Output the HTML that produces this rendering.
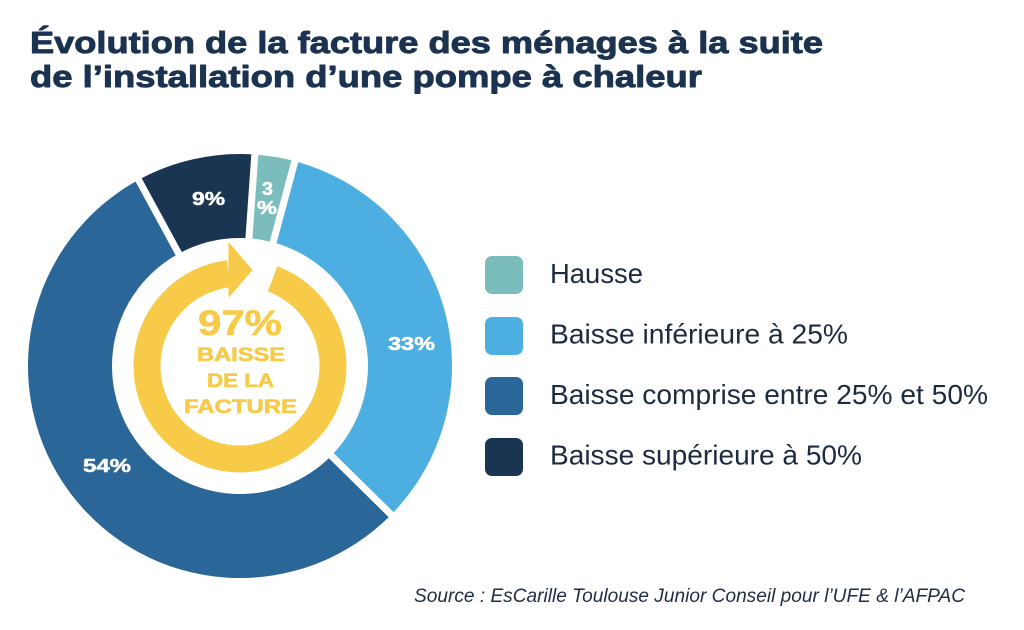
<!DOCTYPE html>
<html>
<head>
<meta charset="utf-8">
<style>
  html, body { margin:0; padding:0; background:#ffffff; }
  body { width:1024px; height:630px; overflow:hidden; }
  svg { display:block; }
  text { font-family: "Liberation Sans", "DejaVu Sans", sans-serif; }
</style>
</head>
<body>
<svg width="1024" height="630" viewBox="0 0 1024 630" xmlns="http://www.w3.org/2000/svg">
  <rect width="1024" height="630" fill="#ffffff"/>

  <!-- Title -->
  <g fill="#1b3350" stroke="#1b3350" stroke-width="0.9" stroke-linejoin="round">
    <text x="30" y="53" font-size="31" font-weight="bold" textLength="793" lengthAdjust="spacingAndGlyphs">Évolution de la facture des ménages à la suite</text>
    <text x="30" y="87" font-size="31" font-weight="bold" textLength="672" lengthAdjust="spacingAndGlyphs">de l’installation d’une pompe à chaleur</text>
  </g>

  <!-- Donut segments -->
  <path d="M254.79 154.52 A212 212 0 0 1 294.87 161.22 L273.13 242.36 A128 128 0 0 0 248.93 238.31 Z" fill="#7bbdbc"/>
  <path d="M294.87 161.22 A212 212 0 0 1 391.21 514.59 L331.30 455.72 A128 128 0 0 0 273.13 242.36 Z" fill="#4daee2"/>
  <path d="M391.21 514.59 A212 212 0 1 1 138.52 179.87 L178.73 253.62 A128 128 0 1 0 331.30 455.72 Z" fill="#2a6698"/>
  <path d="M138.52 179.87 A212 212 0 0 1 254.79 154.52 L248.93 238.31 A128 128 0 0 0 178.73 253.62 Z" fill="#1a3552"/>

  <!-- gaps -->
  <g stroke="#ffffff" stroke-width="7" stroke-linecap="butt">
    <line x1="248.86" y1="239.3" x2="256.05" y2="137.0"/>
    <line x1="272.87" y1="243.3" x2="299.53" y2="143.8"/>
    <line x1="330.58" y1="455.0" x2="402.26" y2="525.6"/>
    <line x1="179.21" y1="254.5" x2="129.90" y2="163.9"/>
  </g>

  <!-- Yellow circular arrow -->
  <path d="M277.30 266.25 A106.5 106.5 0 1 1 227.02 260.29 L230.31 287.09 A79.5 79.5 0 1 0 267.84 291.53 Z" fill="#f7cb47"/>
  <polygon points="228.5,242 228.5,298 252.5,270" fill="#f7cb47"/>

  <!-- Center text -->
  <g font-weight="bold" fill="#f7cb47" stroke="#f7cb47" stroke-width="0.6" stroke-linejoin="round" text-anchor="middle">
    <text x="240" y="335" font-size="35" textLength="84" lengthAdjust="spacingAndGlyphs">97%</text>
    <text x="241" y="361" font-size="19.5" textLength="88" lengthAdjust="spacingAndGlyphs">BAISSE</text>
    <text x="240.5" y="387" font-size="19.5" textLength="67" lengthAdjust="spacingAndGlyphs">DE LA</text>
    <text x="240.5" y="413" font-size="19.5" textLength="113" lengthAdjust="spacingAndGlyphs">FACTURE</text>
  </g>

  <!-- Segment labels -->
  <g font-weight="bold" fill="#ffffff" stroke="#ffffff" stroke-width="0.5" stroke-linejoin="round" text-anchor="middle">
    <text x="208.5" y="205" font-size="18" textLength="33" lengthAdjust="spacingAndGlyphs">9%</text>
    <text x="267.5" y="195" font-size="18.5" textLength="11" lengthAdjust="spacingAndGlyphs">3</text>
    <text x="267" y="214" font-size="18" textLength="20" lengthAdjust="spacingAndGlyphs">%</text>
    <text x="411.5" y="350" font-size="18" textLength="47" lengthAdjust="spacingAndGlyphs">33%</text>
    <text x="107" y="472" font-size="18" textLength="48" lengthAdjust="spacingAndGlyphs">54%</text>
  </g>

  <!-- Legend -->
  <rect x="485" y="256" width="38" height="38" rx="7" fill="#7bbdbc"/>
  <rect x="485" y="317" width="38" height="38" rx="7" fill="#4daee2"/>
  <rect x="485" y="377" width="38" height="38" rx="7" fill="#2a6698"/>
  <rect x="485" y="438" width="38" height="38" rx="7" fill="#1a3552"/>
  <g font-size="27.8" fill="#1c2b40">
    <text x="550" y="283" textLength="93" lengthAdjust="spacingAndGlyphs">Hausse</text>
    <text x="550" y="343.5" textLength="298" lengthAdjust="spacingAndGlyphs">Baisse inférieure à 25%</text>
    <text x="550" y="404" textLength="438" lengthAdjust="spacingAndGlyphs">Baisse comprise entre 25% et 50%</text>
    <text x="550" y="464.5" textLength="312" lengthAdjust="spacingAndGlyphs">Baisse supérieure à 50%</text>
  </g>

  <!-- Source -->
  <text x="414" y="602" font-size="19" font-style="italic" fill="#1e2d45" textLength="551" lengthAdjust="spacingAndGlyphs">Source : EsCarille Toulouse Junior Conseil pour l’UFE &amp; l’AFPAC</text>
</svg>
</body>
</html>
